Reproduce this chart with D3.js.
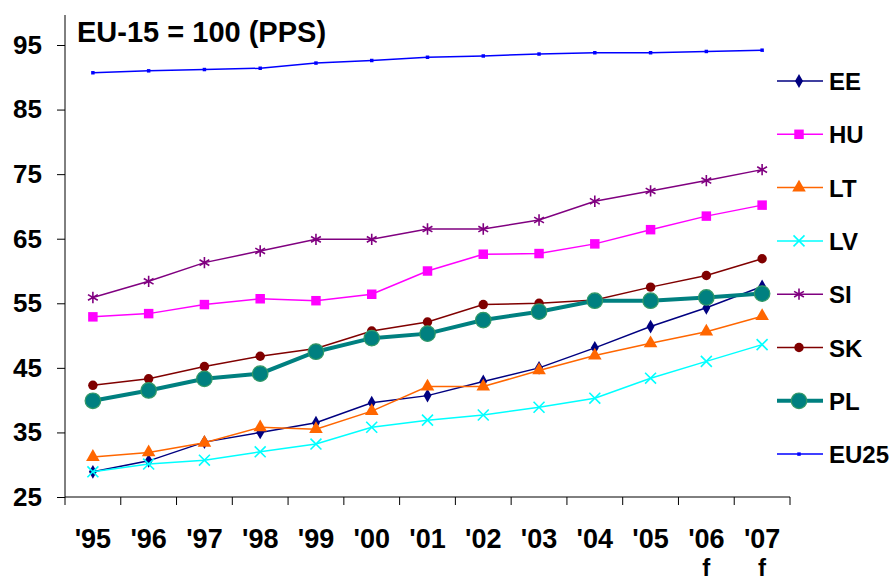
<!DOCTYPE html>
<html>
<head>
<meta charset="utf-8">
<script src="https://cdn.jsdelivr.net/npm/d3@7"></script>
<style>
  body { margin: 0; background: #fff; }
  svg text { font-family: "Liberation Sans", Arial, sans-serif; font-weight: bold; fill: #000; }
</style>
</head>
<body>
<div id="chart"></div>
<script>
// data
var years = ["'95","'96","'97","'98","'99","'00","'01","'02","'03","'04","'05","'06","'07"];
var forecast = ["", "", "", "", "", "", "", "", "", "", "", "f", "f"];
var yTicks = [25, 35, 45, 55, 65, 75, 85, 95];

var EE   = [28.9, 30.6, 33.5, 35.0, 36.5, 39.6, 40.7, 42.9, 45.0, 48.1, 51.4, 54.3, 57.6];
var HU   = [52.9, 53.4, 54.8, 55.7, 55.4, 56.4, 60.0, 62.6, 62.7, 64.2, 66.4, 68.5, 70.2];
var LT   = [31.2, 31.9, 33.4, 35.8, 35.5, 38.3, 42.1, 42.1, 44.6, 46.9, 48.8, 50.6, 53.0];
var LV   = [28.9, 30.1, 30.7, 32.0, 33.2, 35.8, 36.9, 37.7, 38.9, 40.3, 43.4, 46.0, 48.6];
var SI   = [55.9, 58.4, 61.3, 63.1, 64.9, 64.9, 66.5, 66.5, 67.9, 70.8, 72.4, 74.0, 75.7];
var SK   = [42.3, 43.3, 45.2, 46.8, 48.0, 50.7, 52.1, 54.8, 55.0, 55.5, 57.5, 59.3, 61.9];
var PL   = [39.9, 41.5, 43.3, 44.1, 47.5, 49.6, 50.3, 52.4, 53.7, 55.4, 55.4, 55.9, 56.5];
var EU25 = [90.7, 91.0, 91.2, 91.4, 92.2, 92.6, 93.1, 93.3, 93.6, 93.8, 93.8, 94.0, 94.2];

var names = ["EE", "HU", "LT", "LV", "SI", "SK", "PL", "EU25"];
var values = [EE, HU, LT, LV, SI, SK, PL, EU25];

// look of each series
var styles = {
  EE:   {color: "#000080", symbol: d3.symbolDiamond, size: 55, width: 1.5},
  HU:   {color: "#ff00ff", symbol: d3.symbolSquare, size: 90, width: 1.5},
  LT:   {color: "#ff6600", symbol: d3.symbolTriangle, size: 80, width: 1.5},
  LV:   {color: "#00ffff", symbol: d3.symbolTimes, size: 80, width: 1.5, stroke: true},
  SI:   {color: "#800080", symbol: d3.symbolAsterisk, size: 90, width: 1.5, stroke: true},
  SK:   {color: "#800000", symbol: d3.symbolCircle, size: 70, width: 1.5},
  PL:   {color: "#008080", symbol: d3.symbolCircle, size: 190, width: 4, edge: "#339966"},
  EU25: {color: "#0000ff", symbol: d3.symbolSquare, size: 12, width: 1.5}
};

var W = 892, H = 580;
var margin = {t: 45, r: 102, b: 83, l: 65};
var width = W - margin.l - margin.r,
    height = H - margin.t - margin.b;

var svg = d3.select('#chart').append('svg')
    .attr('width', W)
    .attr('height', H);

var x = d3.scaleBand().domain(years).range([0, width]);
var y = d3.scaleLinear().domain([25, 95]).range([height, 0]);

var g = svg.append('g').attr('transform', 'translate(' + margin.l + ',' + margin.t + ')');

// axes
var yAxis = d3.axisLeft(y).tickValues(yTicks).tickSize(8).tickPadding(15);
var gy = g.append('g').attr('class', 'axis axis-y').call(yAxis);
gy.select('.domain').attr('d', 'M0,' + (y(95) - 30) + 'V' + height).attr('stroke', '#000');
gy.selectAll('text').style('font-size', '26px');

var xAxis = d3.axisBottom(x).tickSize(0).tickPadding(0);
var gx = g.append('g').attr('class', 'axis axis-x').attr('transform', 'translate(0,' + height + ')').call(xAxis);
gx.select('.domain').attr('d', 'M0,0H' + width).attr('stroke', '#000');
gx.selectAll('.tick text').attr('dy', 0).attr('y', 51).style('font-size', '27px');
// tick marks between categories
gx.selectAll('.sep').data(d3.range(years.length + 1)).enter().append('line')
    .attr('x1', function(i){ return i * x.step(); })
    .attr('x2', function(i){ return i * x.step(); })
    .attr('y1', 0).attr('y2', 8)
    .attr('stroke', '#000');
gx.selectAll('.fc').data(years).enter().append('text')
    .attr('x', function(d){ return x(d) + x.bandwidth() / 2; })
    .attr('y', 79)
    .attr('text-anchor', 'middle')
    .style('font-size', '24px')
    .text(function(d, i){ return forecast[i]; });

// lines and markers
var line = d3.line()
    .x(function(d, i){ return x(years[i]) + x.bandwidth() / 2; })
    .y(function(d){ return y(d); });

function marker(sel, s) {
  sel.attr('d', d3.symbol().type(s.symbol).size(s.size))
     .attr('fill', s.stroke ? 'none' : s.color)
     .attr('stroke', s.stroke ? s.color : (s.edge || 'none'))
     .attr('stroke-width', s.stroke ? 1.6 : 1.2);
}

names.forEach(function(n, k) {
  var s = styles[n];
  var sg = g.append('g').attr('class', 'series');
  sg.append('path').datum(values[k])
    .attr('d', line)
    .attr('fill', 'none')
    .attr('stroke', s.color)
    .attr('stroke-width', s.width);
  sg.selectAll('.pt').data(values[k]).enter().append('path')
    .attr('class', 'pt')
    .attr('transform', function(d, i){ return 'translate(' + (x(years[i]) + x.bandwidth() / 2) + ',' + y(d) + ')'; })
    .call(marker, s);
});

// title
svg.append('text').attr('class', 'title')
    .attr('x', 77).attr('y', 42)
    .style('font-size', '29px')
    .text('EU-15 = 100 (PPS)');

// legend
var legend = svg.append('g').attr('class', 'legend').attr('transform', 'translate(777,81)');
names.forEach(function(n, k) {
  var s = styles[n];
  var row = legend.append('g').attr('transform', 'translate(0,' + (k * 53.3) + ')');
  row.append('line').attr('x1', 0).attr('x2', 46).attr('y1', 0).attr('y2', 0)
    .attr('stroke', s.color).attr('stroke-width', s.width);
  row.append('path').attr('transform', 'translate(22,0)').call(marker, s);
  row.append('text').attr('x', 52).attr('y', 9).style('font-size', '24px').text(n);
});
</script>
</body>
</html>
